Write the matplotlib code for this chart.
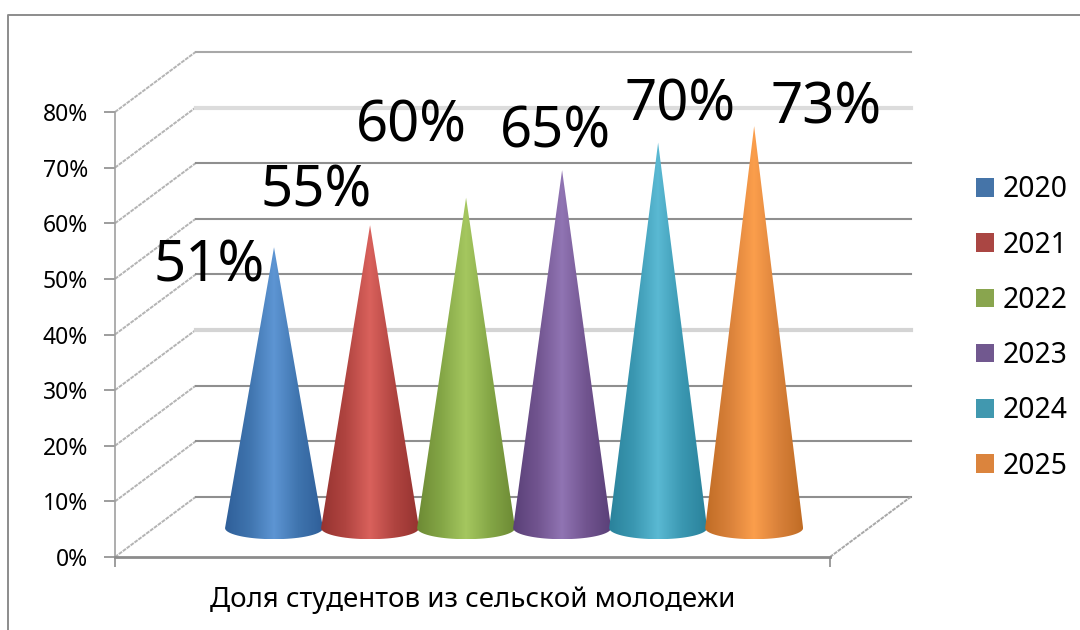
import numpy as np
import matplotlib
matplotlib.use("Agg")
from matplotlib import pyplot as plt
from matplotlib.colors import LinearSegmentedColormap
from matplotlib.patches import Patch, PathPatch
from matplotlib.path import Path

plt.rcParams['font.family'] = ['Noto Sans', 'DejaVu Sans']

years = ['2020', '2021', '2022', '2023', '2024', '2025']
shares = [51, 55, 60, 65, 70, 73]
share_labels = ['51%', '55%', '60%', '65%', '70%', '73%']
y_ticks = [0, 10, 20, 30, 40, 50, 60, 70, 80]
y_tick_labels = ['0%', '10%', '20%', '30%', '40%', '50%', '60%', '70%', '80%']
axis_title = 'Доля студентов из сельской молодежи'

legend_colors = ['#4574a8', '#aa4643', '#89a54e', '#71588f', '#4198af', '#db843d']
# dark edge, body, highlight
cone_colors = [('#2f5f99', '#3f74ae', '#5d95d3'),
               ('#963330', '#b04440', '#d9615c'),
               ('#6c8a34', '#84a646', '#a5c75f'),
               ('#5a4078', '#71548f', '#9074b3'),
               ('#2a829b', '#3a97b1', '#5ab9d3'),
               ('#c06c25', '#d9813a', '#fb9e4c')]
wall_colors = ['#8f8f8f', '#8f8f8f', '#8f8f8f', '#d4d4d4', '#8f8f8f', '#8f8f8f', '#8f8f8f', '#dcdcdc', '#a8a8a8']
# label shift from the cone tip, pixels
label_shift = [(-65, -20), (-54, 33), (-55, 71), (-7, 37), (22, 37), (72, 17)]

W, H = 1080, 630
fig = plt.figure(figsize=(W / 100, H / 100), dpi=100)
fig.patch.set_facecolor('white')

# outer chart frame
fig.add_artist(plt.Line2D([8 / W, 8 / W, 1], [0, 1 - 15 / H, 1 - 15 / H], color='#8c8c8c', lw=1.4))

# front plane of the 3d box is the axes area
ax = fig.add_axes([115 / W, 1 - 557 / H, 715 / W, 445 / H])
ax.set_xlim(-1.656, 5.79)
ax.set_ylim(0, 80)
ax.patch.set_alpha(0)
for s in ['top', 'right']:
    ax.spines[s].set_visible(False)
ax.spines['left'].set_color('#a0a0a0')
ax.spines['bottom'].set_color('#8c8c8c')
ax.spines['left'].set_linewidth(1.2)
ax.spines['bottom'].set_linewidth(2)

ax.set_yticks(y_ticks)
ax.set_yticklabels(y_tick_labels, fontsize=16.5, color='black')
ax.tick_params(axis='y', length=8, width=1.2, color='#8c8c8c', pad=11.5)
ax.set_xticks([-1.656, 5.79])
ax.set_xticklabels(['', ''])
ax.tick_params(axis='x', length=7, width=1.2, color='#8c8c8c')
ax.set_xlabel(axis_title, fontsize=19.9, color='black', labelpad=10.5)

depth_x = 0.84
depth_y = 10.8
x0, x1 = ax.get_xlim()

# walls
for v, c in zip(y_ticks, wall_colors):
    ax.plot([x0, x0 + depth_x], [v, v + depth_y], color='#b4b4b4', lw=1.4, ls=(0, (2, 0.5)), clip_on=False, zorder=1)
    ax.plot([x0 + depth_x, x1 + depth_x], [v + depth_y, v + depth_y], color=c,
            lw=3 if c == '#dcdcdc' or c == '#d4d4d4' else 1.5, clip_on=False, zorder=1)
ax.plot([x1, x1 + depth_x], [0, depth_y], color='#a8a8a8', lw=1.4, ls=(0, (2, 0.5)), clip_on=False, zorder=1)

# cones
half_w = 0.51
base_y = 5.2
base_h = 2.0
for i, v in enumerate(shares):
    tip = base_y + v * 0.99
    t = np.linspace(np.pi, 2 * np.pi, 40)
    xs = i + half_w * np.cos(t)
    ys = base_y + base_h * np.sin(t)
    verts = [(i, tip)] + list(zip(xs, ys)) + [(i, tip)]
    codes = [Path.MOVETO] + [Path.LINETO] * (len(verts) - 2) + [Path.CLOSEPOLY]
    clip = PathPatch(Path(verts, codes), fc='none', ec='none', transform=ax.transData)
    ax.add_patch(clip)
    cmap = LinearSegmentedColormap.from_list('c' + str(i), [cone_colors[i][0], cone_colors[i][1], cone_colors[i][2],
                                                            cone_colors[i][1], cone_colors[i][0]])
    grad = np.linspace(0, 1, 256).reshape(1, -1)
    im = ax.imshow(grad, cmap=cmap, extent=[i - half_w, i + half_w, base_y - base_h, tip],
                   aspect='auto', zorder=3 + i)
    im.set_clip_path(clip)
    ax.annotate(share_labels[i], (i, tip), xytext=(label_shift[i][0] * 0.72, label_shift[i][1] * 0.72),
                textcoords='offset points', ha='center', va='center', fontsize=40.5, color='black',
                zorder=20, annotation_clip=False)
ax.set_xlim(x0, x1)
ax.set_ylim(0, 80)

handles = [Patch(facecolor=c, edgecolor='none', label=y) for y, c in zip(years, legend_colors)]
fig.legend(handles=handles, loc='center left', bbox_to_anchor=(976 / W, 1 - 328 / H), frameon=False,
           fontsize=20.4, handlelength=0.636, handleheight=0.636, handletextpad=0.3, labelspacing=0.925,
           borderpad=0, borderaxespad=0)

fig.savefig('out.png', dpi=100)
